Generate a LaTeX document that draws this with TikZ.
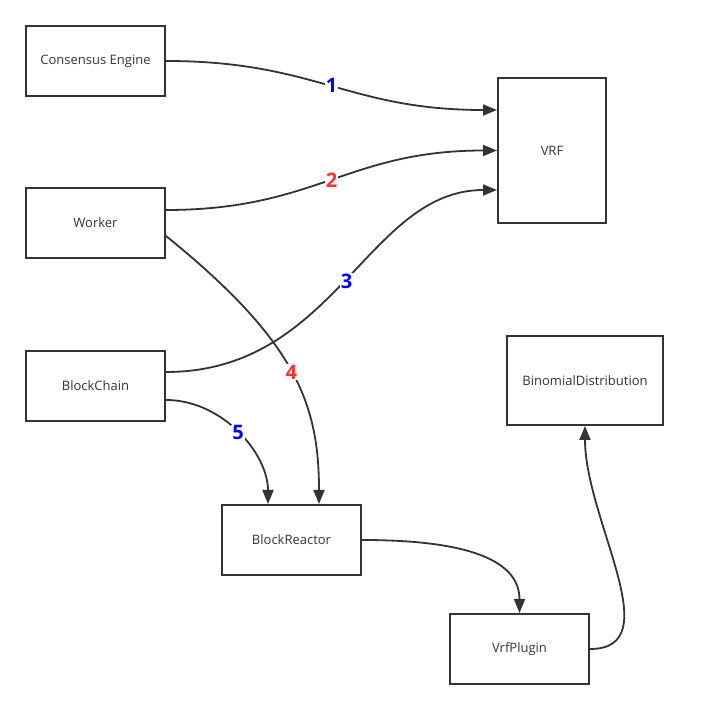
\documentclass[tikz,border=0pt]{standalone}
\usepackage{fontspec}
\setmainfont{Open Sans}
\usetikzlibrary{arrows.meta,positioning}
\definecolor{ink}{RGB}{51,51,51}
\definecolor{numblue}{RGB}{0,0,255}
\definecolor{numred}{RGB}{255,51,51}

\begin{document}
\begin{tikzpicture}[
    x=1pt, y=1pt,
    every node/.style={font=\fontsize{13}{15}\selectfont, text=ink},
    box/.style={draw=ink, line width=2pt, minimum width=139pt, minimum height=70pt, inner sep=2pt},
    flow/.style={-{Triangle[length=14pt, width=11pt]}, draw=ink, line width=1.8pt},
    num/.style={fill=white, inner sep=1pt, font=\fontsize{20}{20}\bfseries\selectfont}
]
\useasboundingbox (0,0) rectangle (703,710);
\node[box] (consensus) at (95.5,649) {Consensus Engine};
\node[box, below=90pt of consensus] (worker) {Worker};
\node[box, below=91pt of worker] (blockchain) {BlockChain};
\node[box, minimum width=108pt, minimum height=145pt] (vrf) at (552,559.5) {VRF};
\node[box, minimum width=156pt, minimum height=89pt] (binomial) at (585,329.5) {BinomialDistribution};
\node[box] (reactor) at (291.5,170) {BlockReactor};
\node[box] (plugin) at (519.5,61) {VrfPlugin};
\draw[flow] (consensus.east) .. controls +(150,0) and +(-150,0) .. ([yshift=40.5pt]vrf.west)
    node[num, text=numblue, pos=0.5] {1};
\draw[flow] ([yshift=13pt]worker.east) .. controls +(150,0) and +(-150,0) .. (vrf.west)
    node[num, text=numred, pos=0.5] {2};
\draw[flow] ([yshift=14pt]blockchain.east) .. controls +(170,0) and +(-130,0) .. ([yshift=-39.5pt]vrf.west)
    node[num, text=numblue, pos=0.5] {3};
\draw[flow] ([yshift=-13pt]worker.east) .. controls +(130,-105) and +(0,100) .. ([xshift=27.5pt]reactor.north)
    node[num, text=numred, pos=0.5] {4};
\draw[flow] ([yshift=-14pt]blockchain.east) .. controls +(56,0) and +(0,51) .. ([xshift=-23.5pt]reactor.north)
    node[num, text=numblue, pos=0.5] {5};
\draw[flow] (reactor.east) .. controls +(100,0) and +(0,55) .. (plugin.north);
\draw[flow] (plugin.east) .. controls +(80,0) and +(0,-94) .. (binomial.south);
\end{tikzpicture}
\end{document}
